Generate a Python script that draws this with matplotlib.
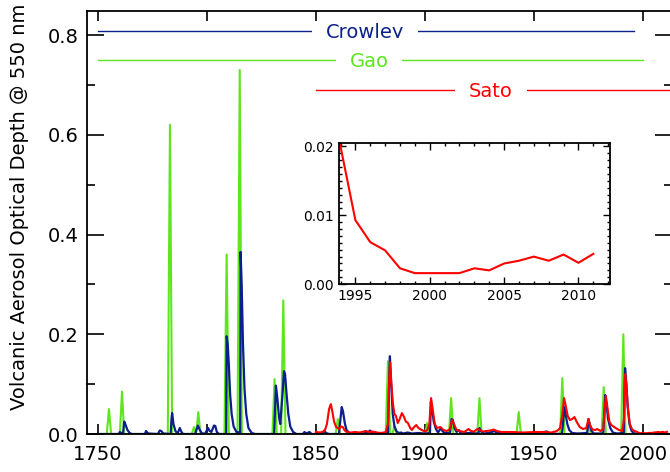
import matplotlib
matplotlib.use('Agg')
import matplotlib.pyplot as plt
from matplotlib.ticker import MultipleLocator, FormatStrFormatter

# Gao et al. (annual, eruption years only)
gao_years = [1750, 1754, 1755, 1756, 1760, 1761, 1762, 1782, 1783, 1784, 1793, 1794, 1795,
             1796, 1797, 1808, 1809, 1810, 1814, 1815, 1816, 1830, 1831, 1832, 1834, 1835,
             1836, 1859, 1860, 1861, 1882, 1883, 1884, 1885, 1886, 1887, 1900, 1901, 1902,
             1911, 1912, 1913, 1924, 1925, 1926, 1942, 1943, 1944, 1962, 1963, 1964, 1974,
             1975, 1976, 1981, 1982, 1983, 1990, 1991, 1992, 2000]
gao_aod = [0, 0, 0.05, 0, 0, 0.085, 0, 0, 0.62, 0, 0, 0.014, 0,
           0.044, 0, 0, 0.36, 0, 0, 0.73, 0, 0, 0.11, 0, 0, 0.268,
           0, 0, 0.03, 0, 0, 0.146, 0, 0, 0.016, 0, 0, 0.022, 0,
           0, 0.072, 0, 0, 0.072, 0, 0, 0.044, 0, 0, 0.112, 0, 0,
           0.03, 0, 0, 0.094, 0, 0, 0.2, 0, 0]

# Crowley
crowley_years = [1750, 1759.5, 1760, 1760.5, 1761.5, 1762, 1762.5, 1763.5, 1764.5, 1765.5,
                 1771.5, 1772, 1773, 1777.5, 1778.3, 1779, 1780,
                 1783.3, 1783.7, 1784, 1784.6, 1785.5, 1786.5, 1787.5, 1788.3, 1789,
                 1794.5, 1795.8, 1796.5, 1797.5, 1799, 1800.5, 1801.2, 1802, 1803.2, 1803.8,
                 1804.5, 1805.5,
                 1808.8, 1809, 1809.5, 1810, 1810.6, 1811.3, 1812.2, 1813.5, 1815.2, 1815.4,
                 1815.9, 1816.5, 1817.2, 1818, 1819, 1820.5, 1822,
                 1830.8, 1831.3, 1831.6, 1832.3, 1833, 1833.6, 1834.8, 1835.3, 1835.8, 1836.5,
                 1837.3, 1838.2, 1839.5, 1841, 1844, 1844.7, 1845.5, 1847, 1848, 1853, 1853.8,
                 1854.6, 1856,
                 1860.5, 1861, 1861.8, 1862.4, 1863.2, 1864, 1865.5, 1872, 1872.7, 1873.5,
                 1874.8, 1875.6, 1877, 1878, 1880, 1883, 1883.5, 1883.9, 1884.5, 1885.2, 1886,
                 1887, 1888, 1889, 1890, 1892, 1894, 1897, 1900, 1902.3, 1902.7, 1903.3, 1904,
                 1905, 1906, 1907.3, 1908, 1909, 1911.5, 1912.2, 1912.8, 1913.5, 1914.5,
                 1915.5, 1916.5, 1920, 1924.5, 1925, 1925.8, 1927, 1929, 1932, 1933, 1936,
                 1940, 1950, 1956, 1957, 1962.8, 1963.3, 1963.9, 1964.5, 1965.3, 1966.2,
                 1967.5, 1970, 1974.5, 1975, 1975.6, 1976.4, 1977.5, 1981.8, 1982.4, 1982.7,
                 1983.3, 1984, 1985, 1986.2, 1988, 1991.2, 1991.5, 1991.8, 1992.4, 1993,
                 1993.8, 1994.8, 1996, 2000]
crowley_aod = [0, 0, 0.004, 0.002, 0.003, 0.025, 0.02, 0.008, 0.002, 0,
               0, 0.006, 0.001, 0, 0.007, 0.006, 0.001,
               0, 0.03, 0.042, 0.02, 0.006, 0.001, 0.012, 0.004, 0,
               0, 0.017, 0.01, 0.002, 0, 0.012, 0.006, 0.004, 0.017, 0.016,
               0.004, 0,
               0, 0.196, 0.18, 0.14, 0.08, 0.04, 0.015, 0.004, 0.003, 0.365,
               0.3, 0.18, 0.09, 0.04, 0.012, 0.002, 0,
               0, 0.06, 0.097, 0.07, 0.035, 0.02, 0.09, 0.126, 0.12, 0.08,
               0.04, 0.015, 0.004, 0, 0, 0.004, 0.001, 0.004, 0, 0, 0.007,
               0.002, 0,
               0, 0.02, 0.054, 0.045, 0.022, 0.008, 0.001, 0, 0.006, 0.002,
               0.007, 0.002, 0.003, 0.001, 0.002, 0.001, 0.1, 0.156, 0.1, 0.04, 0.015,
               0.005, 0.002, 0.003, 0.001, 0.003, 0.001, 0.002, 0.001, 0.002, 0.065, 0.05, 0.025,
               0.01, 0.003, 0.012, 0.006, 0.002, 0.002, 0.03, 0.028, 0.012, 0.004,
               0.008, 0.001, 0.002, 0.001, 0.012, 0.005, 0.001, 0.002, 0.006, 0.002, 0.001,
               0.001, 0.001, 0.005, 0.001, 0, 0.02, 0.054, 0.04, 0.02, 0.008,
               0.002, 0.001, 0.002, 0.03, 0.02, 0.006, 0.001, 0.001, 0.05, 0.078,
               0.06, 0.03, 0.012, 0.003, 0.001, 0.002, 0.09, 0.132, 0.1, 0.055,
               0.02, 0.006, 0.001, 0]

# Sato
sato_years = [1850, 1852, 1854, 1855, 1856, 1856.8, 1857.5, 1858.3, 1859.2, 1860.5, 1861.5,
              1862.3, 1863, 1864, 1866, 1868, 1870, 1873, 1874, 1876, 1878, 1880, 1882, 1883,
              1883.6, 1884, 1884.6, 1885.3, 1886, 1886.7, 1887.5, 1888.4, 1889.4, 1890.3,
              1891.2, 1892.2, 1893.2, 1894, 1895, 1896, 1897, 1898.5, 1900, 1901, 1902,
              1902.8, 1903.5, 1904.5, 1905.5, 1907, 1908.5, 1910, 1911.5, 1912.4, 1913.3,
              1914.5, 1916, 1918, 1920, 1921, 1922.5, 1924, 1925, 1926.5, 1928, 1930, 1931.5,
              1933, 1935, 1940, 1945, 1950, 1955, 1958, 1960.5, 1962, 1963, 1963.8, 1964.5,
              1965.5, 1966.5, 1967.5, 1968.6, 1969.5, 1971, 1972.5, 1974, 1975, 1975.7,
              1976.8, 1978, 1979, 1980.5, 1981.8, 1982.4, 1983, 1983.8, 1984.6, 1985.5,
              1986.5, 1987.5, 1989, 1990.5, 1991.3, 1991.8, 1992.4, 1993, 1994, 1995, 1996,
              1997, 1998, 1999, 2000, 2001, 2002, 2003, 2004, 2005, 2006, 2007, 2008, 2009,
              2010, 2011]
sato_aod = [0.004, 0.003, 0.006, 0.02, 0.05, 0.06, 0.045, 0.025, 0.014, 0.01, 0.015,
            0.014, 0.008, 0.004, 0.003, 0.004, 0.003, 0.006, 0.004, 0.005, 0.003, 0.002, 0.004, 0.02,
            0.11, 0.144, 0.1, 0.06, 0.04, 0.036, 0.022, 0.03, 0.042, 0.035,
            0.025, 0.022, 0.012, 0.008, 0.014, 0.018, 0.012, 0.008, 0.005, 0.007, 0.02,
            0.072, 0.05, 0.02, 0.012, 0.014, 0.008, 0.006, 0.01, 0.028, 0.02,
            0.008, 0.006, 0.004, 0.01, 0.006, 0.005, 0.01, 0.008, 0.005, 0.006, 0.007, 0.009,
            0.006, 0.004, 0.004, 0.003, 0.004, 0.004, 0.003, 0.006, 0.012, 0.04, 0.072, 0.058,
            0.036, 0.028, 0.03, 0.034, 0.025, 0.014, 0.01, 0.012, 0.03, 0.018,
            0.009, 0.008, 0.01, 0.006, 0.01, 0.05, 0.076, 0.05, 0.025, 0.018,
            0.015, 0.012, 0.008, 0.006, 0.03, 0.12, 0.1, 0.055, 0.02, 0.0093, 0.0061,
            0.0049, 0.0023, 0.0016, 0.0016, 0.0016, 0.0016, 0.0023, 0.002, 0.003, 0.0034, 0.004, 0.0034, 0.0043,
            0.0031, 0.0044]

# label text, coverage (start, end), label centre year, label height
names = ['Crowley', 'Gao', 'Sato']
colors = ['#0c1f8c', '#5ee51e', '#ff0000']
cover = [(1750, 1996), (1750, 2000), (1850, 2012.4)]
label_x = [1872.5, 1874.3, 1930.3]
label_y = [0.808, 0.750, 0.690]

plt.rcParams['font.family'] = 'DejaVu Sans'
plt.rcParams['xtick.direction'] = 'in'
plt.rcParams['ytick.direction'] = 'in'

fig = plt.figure(figsize=(6.7, 4.72), dpi=100)
ax = fig.add_axes([0.1299, 0.0805, 0.873, 0.896])

ax.plot(gao_years, gao_aod, color=colors[1], lw=1.5)
ax.plot(crowley_years, crowley_aod, color=colors[0], lw=1.6)
ax.plot(sato_years, sato_aod, color=colors[2], lw=1.5)

for name, c, (x0, x1), lx, ly in zip(names, colors, cover, label_x, label_y):
    ax.plot([x0, x1], [ly, ly], color=c, lw=1, zorder=1)
    ax.text(lx, ly - 0.003, name, color=c, fontsize=14, ha='center', va='center', zorder=1.5,
            bbox=dict(boxstyle='square,pad=0.7', fc='white', ec='none'))

ax.set_xlim(1744.95, 2013.3)
ax.set_ylim(0, 0.848)
ax.xaxis.set_major_locator(MultipleLocator(50))
ax.yaxis.set_major_locator(MultipleLocator(0.2))
ax.yaxis.set_minor_locator(MultipleLocator(0.1))
ax.yaxis.set_major_formatter(FormatStrFormatter('%.1f'))
ax.tick_params(axis='both', which='both', top=True, right=True, labelsize=14, width=1.2)
ax.tick_params(axis='x', which='major', length=7, pad=8)
ax.tick_params(axis='y', which='major', length=12, pad=6)
ax.tick_params(axis='y', which='minor', length=6)
for s in ax.spines.values():
    s.set_linewidth(1.3)

fig.text(20 / 670, 1 - 207 / 472, 'Volcanic Aerosol Optical Depth @ 550 nm',
         rotation=90, ha='center', va='center', fontsize=14)

# inset: recent Sato values
ins = fig.add_axes([0.506, 0.398, 0.404, 0.299])
ins.plot(sato_years, sato_aod, color=colors[2], lw=1.5)
ins.set_xlim(1993.9, 2012.1)
ins.set_ylim(0, 0.0205)
ins.xaxis.set_major_locator(MultipleLocator(5))
ins.xaxis.set_minor_locator(MultipleLocator(1))
ins.yaxis.set_major_locator(MultipleLocator(0.01))
ins.yaxis.set_minor_locator(MultipleLocator(0.001))
ins.yaxis.set_major_formatter(FormatStrFormatter('%.2f'))
ins.tick_params(axis='both', which='both', top=True, right=True, labelsize=10, width=1)
ins.tick_params(which='major', length=5)
ins.tick_params(which='minor', length=2.5)
for s in ins.spines.values():
    s.set_linewidth(1.3)

fig.savefig('out.png', dpi=100)
